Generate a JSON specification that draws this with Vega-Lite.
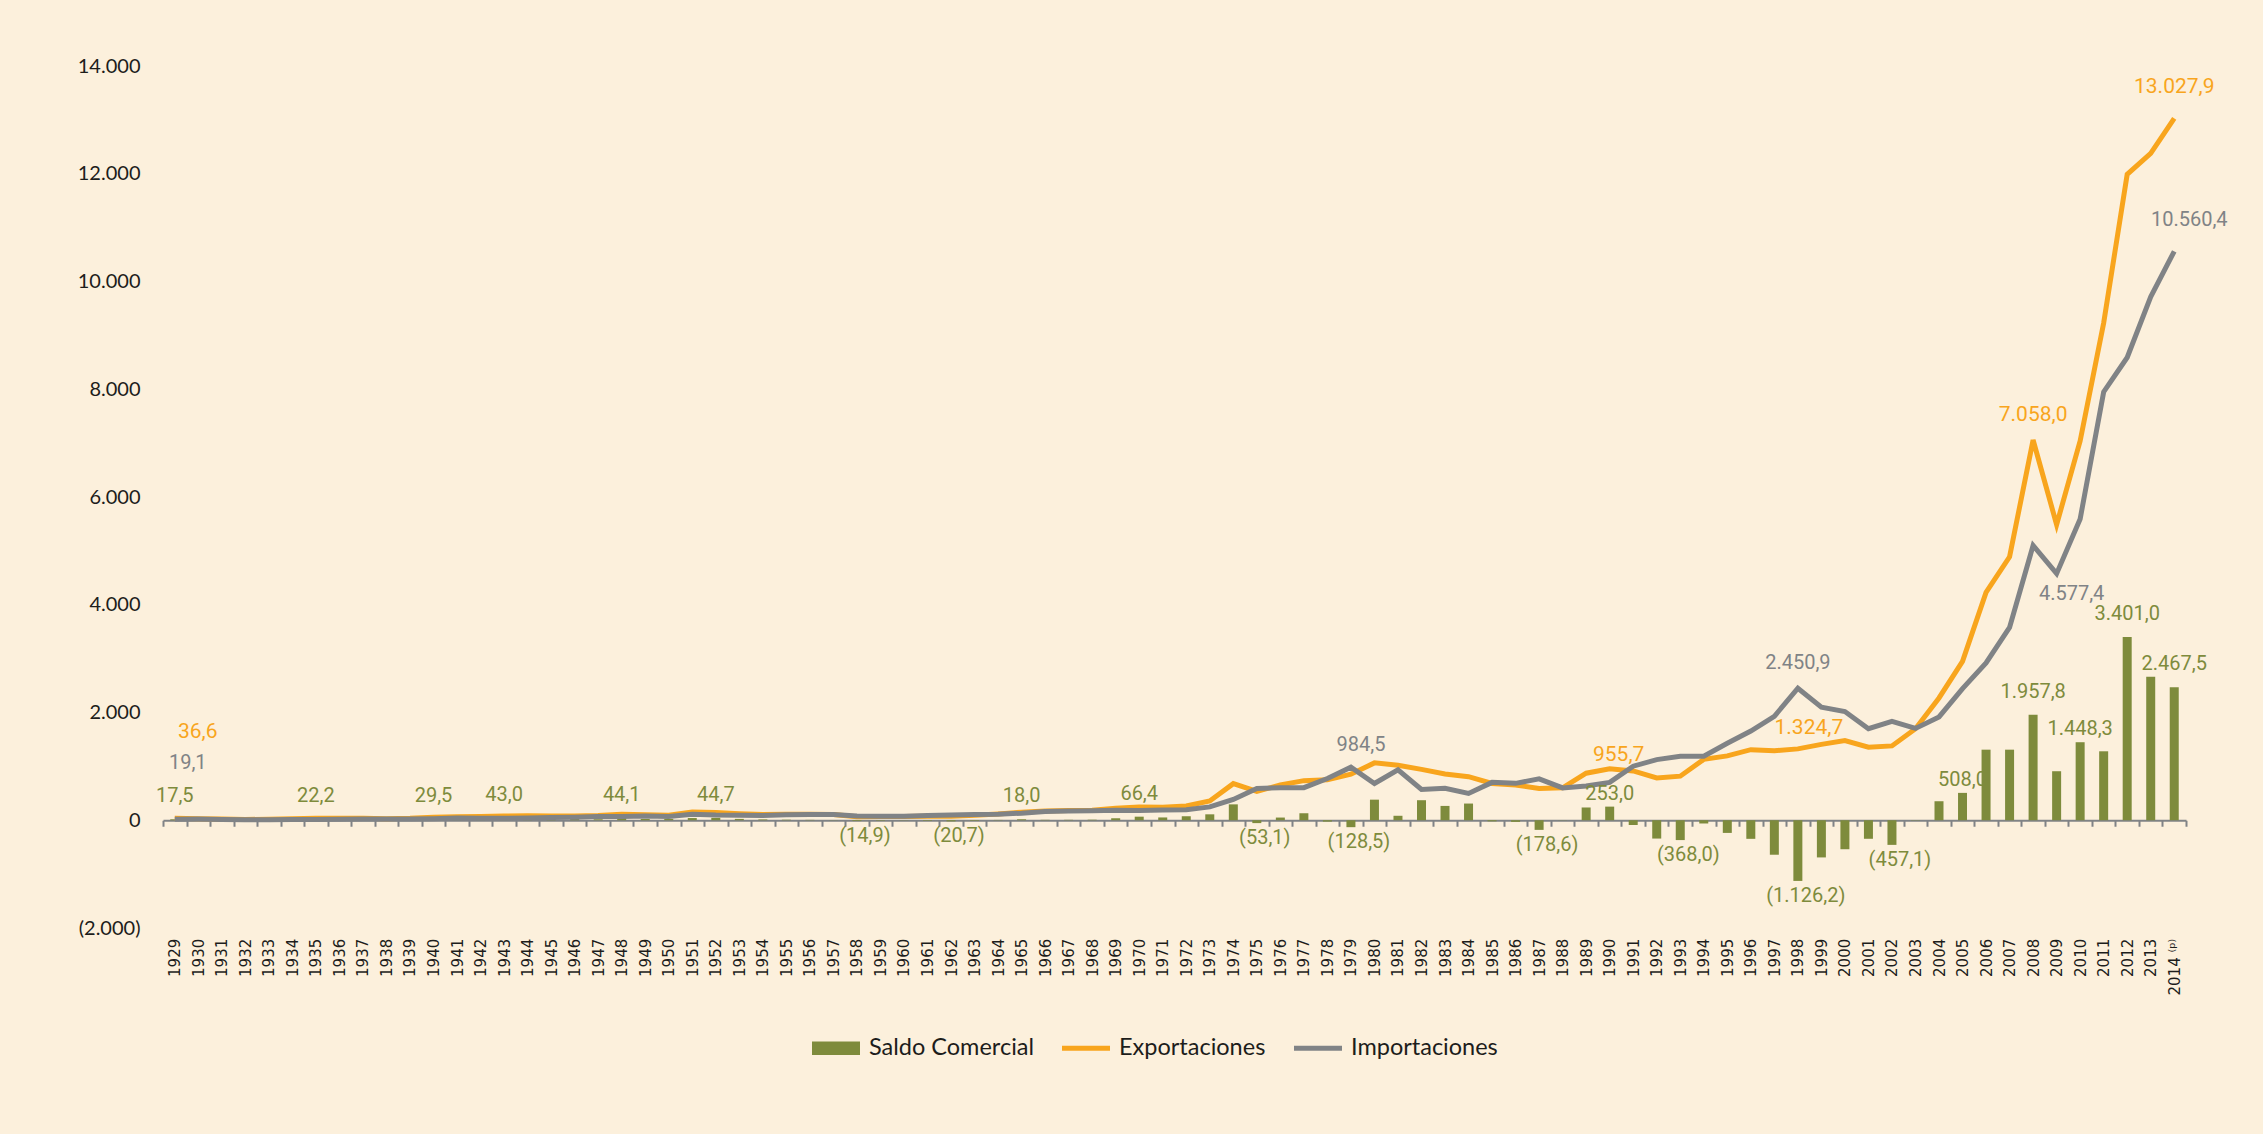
{
  "$schema": "https://vega.github.io/schema/vega-lite/v6.json",
  "width": 2023,
  "height": 862,
  "autosize": {"type": "none"},
  "padding": {"left": 163, "top": 66, "right": 77, "bottom": 206},
  "background": "#fcf0dc",
  "config": {
    "locale": {"number": {"decimal": ",", "thousands": ".", "grouping": [3], "currency": ["", ""]}},
    "view": {"stroke": null},
    "text": {"font": "Liberation Sans Narrow, Roboto, sans-serif", "fontSize": 20, "baseline": "middle", "align": "center"},
    "axisY": {"grid": false, "domain": false, "ticks": false, "labelFont": "Lato", "labelFontSize": 20, "labelColor": "#1d1d1b", "labelPadding": 23}
  },
  "data": {"values": [
    {"year": 1929, "exp": 36.6, "imp": 19.1, "saldo": 17.5},
    {"year": 1930, "exp": 30.0, "imp": 21.0, "saldo": 9.0},
    {"year": 1931, "exp": 22.0, "imp": 14.0, "saldo": 8.0},
    {"year": 1932, "exp": 15.0, "imp": 9.0, "saldo": 6.0},
    {"year": 1933, "exp": 18.0, "imp": 11.0, "saldo": 7.0},
    {"year": 1934, "exp": 26.0, "imp": 14.0, "saldo": 12.0},
    {"year": 1935, "exp": 38.0, "imp": 15.8, "saldo": 22.2},
    {"year": 1936, "exp": 35.0, "imp": 19.0, "saldo": 16.0},
    {"year": 1937, "exp": 38.0, "imp": 23.0, "saldo": 15.0},
    {"year": 1938, "exp": 30.0, "imp": 25.0, "saldo": 5.0},
    {"year": 1939, "exp": 36.0, "imp": 22.0, "saldo": 14.0},
    {"year": 1940, "exp": 57.0, "imp": 27.5, "saldo": 29.5},
    {"year": 1941, "exp": 65.0, "imp": 40.0, "saldo": 25.0},
    {"year": 1942, "exp": 68.0, "imp": 39.0, "saldo": 29.0},
    {"year": 1943, "exp": 80.0, "imp": 37.0, "saldo": 43.0},
    {"year": 1944, "exp": 82.0, "imp": 44.0, "saldo": 38.0},
    {"year": 1945, "exp": 80.0, "imp": 52.0, "saldo": 28.0},
    {"year": 1946, "exp": 79.0, "imp": 56.0, "saldo": 23.0},
    {"year": 1947, "exp": 87.0, "imp": 69.0, "saldo": 18.0},
    {"year": 1948, "exp": 113.0, "imp": 68.9, "saldo": 44.1},
    {"year": 1949, "exp": 101.0, "imp": 78.0, "saldo": 23.0},
    {"year": 1950, "exp": 94.0, "imp": 70.0, "saldo": 24.0},
    {"year": 1951, "exp": 151.0, "imp": 110.0, "saldo": 41.0},
    {"year": 1952, "exp": 142.0, "imp": 97.3, "saldo": 44.7},
    {"year": 1953, "exp": 120.0, "imp": 95.0, "saldo": 25.0},
    {"year": 1954, "exp": 105.0, "imp": 90.0, "saldo": 15.0},
    {"year": 1955, "exp": 110.0, "imp": 100.0, "saldo": 10.0},
    {"year": 1956, "exp": 112.0, "imp": 105.0, "saldo": 7.0},
    {"year": 1957, "exp": 105.0, "imp": 108.0, "saldo": -3.0},
    {"year": 1958, "exp": 64.0, "imp": 78.9, "saldo": -14.9},
    {"year": 1959, "exp": 68.0, "imp": 76.0, "saldo": -8.0},
    {"year": 1960, "exp": 68.0, "imp": 72.0, "saldo": -4.0},
    {"year": 1961, "exp": 76.0, "imp": 86.0, "saldo": -10.0},
    {"year": 1962, "exp": 76.0, "imp": 96.7, "saldo": -20.7},
    {"year": 1963, "exp": 95.0, "imp": 105.0, "saldo": -10.0},
    {"year": 1964, "exp": 118.0, "imp": 112.0, "saldo": 6.0},
    {"year": 1965, "exp": 150.0, "imp": 132.0, "saldo": 18.0},
    {"year": 1966, "exp": 172.0, "imp": 164.0, "saldo": 8.0},
    {"year": 1967, "exp": 180.0, "imp": 172.0, "saldo": 8.0},
    {"year": 1968, "exp": 186.0, "imp": 176.0, "saldo": 10.0},
    {"year": 1969, "exp": 222.0, "imp": 185.0, "saldo": 37.0},
    {"year": 1970, "exp": 246.4, "imp": 180.0, "saldo": 66.4},
    {"year": 1971, "exp": 240.0, "imp": 188.0, "saldo": 52.0},
    {"year": 1972, "exp": 266.0, "imp": 194.0, "saldo": 72.0},
    {"year": 1973, "exp": 358.0, "imp": 248.0, "saldo": 110.0},
    {"year": 1974, "exp": 680.0, "imp": 385.0, "saldo": 295.0},
    {"year": 1975, "exp": 535.0, "imp": 588.1, "saldo": -53.1},
    {"year": 1976, "exp": 655.0, "imp": 605.0, "saldo": 50.0},
    {"year": 1977, "exp": 735.0, "imp": 605.0, "saldo": 130.0},
    {"year": 1978, "exp": 750.0, "imp": 775.0, "saldo": -25.0},
    {"year": 1979, "exp": 856.0, "imp": 984.5, "saldo": -128.5},
    {"year": 1980, "exp": 1065.0, "imp": 683.0, "saldo": 382.0},
    {"year": 1981, "exp": 1020.0, "imp": 937.0, "saldo": 83.0},
    {"year": 1982, "exp": 945.0, "imp": 573.0, "saldo": 372.0},
    {"year": 1983, "exp": 858.0, "imp": 592.0, "saldo": 266.0},
    {"year": 1984, "exp": 808.0, "imp": 498.0, "saldo": 310.0},
    {"year": 1985, "exp": 683.0, "imp": 703.0, "saldo": -20.0},
    {"year": 1986, "exp": 655.0, "imp": 685.0, "saldo": -30.0},
    {"year": 1987, "exp": 590.0, "imp": 768.6, "saldo": -178.6},
    {"year": 1988, "exp": 603.0, "imp": 600.0, "saldo": 3.0},
    {"year": 1989, "exp": 873.0, "imp": 636.0, "saldo": 237.0},
    {"year": 1990, "exp": 955.7, "imp": 702.7, "saldo": 253.0},
    {"year": 1991, "exp": 915.0, "imp": 1003.0, "saldo": -88.0},
    {"year": 1992, "exp": 786.0, "imp": 1126.0, "saldo": -340.0},
    {"year": 1993, "exp": 818.0, "imp": 1186.0, "saldo": -368.0},
    {"year": 1994, "exp": 1130.0, "imp": 1190.0, "saldo": -60.0},
    {"year": 1995, "exp": 1195.0, "imp": 1430.0, "saldo": -235.0},
    {"year": 1996, "exp": 1310.0, "imp": 1655.0, "saldo": -345.0},
    {"year": 1997, "exp": 1290.0, "imp": 1930.0, "saldo": -640.0},
    {"year": 1998, "exp": 1324.7, "imp": 2450.9, "saldo": -1126.2},
    {"year": 1999, "exp": 1408.0, "imp": 2098.0, "saldo": -690.0},
    {"year": 2000, "exp": 1480.0, "imp": 2018.0, "saldo": -538.0},
    {"year": 2001, "exp": 1356.0, "imp": 1700.0, "saldo": -344.0},
    {"year": 2002, "exp": 1380.0, "imp": 1837.1, "saldo": -457.1},
    {"year": 2003, "exp": 1700.0, "imp": 1705.0, "saldo": -5.0},
    {"year": 2004, "exp": 2270.0, "imp": 1917.0, "saldo": 353.0},
    {"year": 2005, "exp": 2950.0, "imp": 2442.0, "saldo": 508.0},
    {"year": 2006, "exp": 4230.0, "imp": 2920.0, "saldo": 1310.0},
    {"year": 2007, "exp": 4890.0, "imp": 3580.0, "saldo": 1310.0},
    {"year": 2008, "exp": 7058.0, "imp": 5100.2, "saldo": 1957.8},
    {"year": 2009, "exp": 5487.4, "imp": 4577.4, "saldo": 910.0},
    {"year": 2010, "exp": 7040.0, "imp": 5591.7, "saldo": 1448.3},
    {"year": 2011, "exp": 9230.0, "imp": 7950.0, "saldo": 1280.0},
    {"year": 2012, "exp": 11990.0, "imp": 8589.0, "saldo": 3401.0},
    {"year": 2013, "exp": 12380.0, "imp": 9715.0, "saldo": 2665.0},
    {"year": 2014, "exp": 13027.9, "imp": 10560.4, "saldo": 2467.5}
  ]},
  "encoding": {
    "x": {
      "field": "year", "type": "ordinal", "title": null,
      "scale": {"paddingInner": 0, "paddingOuter": 0},
      "axis": {
        "title": null, "labelAngle": 270, "labelAlign": "right", "labelBaseline": "middle",
        "labelFont": "DejaVu Sans", "labelFontSize": 15, "labelColor": "#1d1d1b",
        "labelPadding": 112, "labelOverlap": false, "offset": -107.75,
        "domainColor": "#808386", "domainWidth": 2, "tickColor": "#808386", "tickWidth": 2,
        "tickSize": 6, "tickBand": "extent", "grid": false,
        "labelExpr": "datum.value == 2014 ? '2014 ⁽ᵖ⁾' : datum.label"
      }
    }
  },
  "layer": [
    {
      "mark": {"type": "bar", "size": 9},
      "encoding": {
        "y": {
          "field": "saldo", "type": "quantitative", "title": null,
          "scale": {"domain": [-2000, 14000], "nice": false, "zero": false},
          "axis": {"title": null, "values": [-2000, 0, 2000, 4000, 6000, 8000, 10000, 12000, 14000], "format": "(,.0f"}
        },
        "color": {
          "datum": "Saldo Comercial",
          "scale": {"domain": ["Saldo Comercial", "Exportaciones", "Importaciones"], "range": ["#7e8b3c", "#f8a51d", "#808386"]},
          "legend": {
            "title": null, "orient": "none", "direction": "horizontal",
            "legendX": 649, "legendY": 958,
            "labelFont": "Lato", "labelFontSize": 23.5, "labelColor": "#1d1d1b", "labelLimit": 400,
            "symbolSize": 2304, "labelOffset": 9, "columnPadding": 28,
            "encode": {
              "symbols": {
                "update": {
                  "shape": {"signal": "datum.value === 'Saldo Comercial' ? 'M-1,-0.28H1V0.28H-1Z' : 'M-1,-0.1H1V0.1H-1Z'"},
                  "fill": {"scale": "color", "field": "value"},
                  "stroke": {"value": "transparent"},
                  "strokeWidth": {"value": 0},
                  "opacity": {"value": 1}
                }
              }
            }
          }
        }
      }
    },
    {
      "mark": {"type": "line", "strokeWidth": 5},
      "encoding": {
        "y": {"field": "exp", "type": "quantitative", "title": null, "axis": {"title": null, "values": [-2000, 0, 2000, 4000, 6000, 8000, 10000, 12000, 14000], "format": "(,.0f"}},
        "color": {"datum": "Exportaciones"}
      }
    },
    {
      "mark": {"type": "line", "strokeWidth": 5},
      "encoding": {
        "y": {"field": "imp", "type": "quantitative", "title": null, "axis": {"title": null, "values": [-2000, 0, 2000, 4000, 6000, 8000, 10000, 12000, 14000], "format": "(,.0f"}},
        "color": {"datum": "Importaciones"}
      }
    },
    {
      "transform": [{"filter": {"field": "year", "oneOf": [1929, 1935, 1940, 1943, 1948, 1952, 1965, 1970, 2008, 2012, 2014]}}],
      "mark": {"type": "text", "dy": -23, "color": "#7e8b3c"},
      "encoding": {
        "y": {"field": "saldo", "type": "quantitative", "title": null, "axis": {"title": null, "values": [-2000, 0, 2000, 4000, 6000, 8000, 10000, 12000, 14000], "format": "(,.0f"}},
        "text": {"field": "saldo", "type": "quantitative", "format": ",.1f"}
      }
    },
    {
      "transform": [{"filter": {"field": "year", "oneOf": [1990, 2005, 2010]}}],
      "mark": {"type": "text", "dy": -13, "color": "#7e8b3c"},
      "encoding": {
        "y": {"field": "saldo", "type": "quantitative", "title": null, "axis": {"title": null, "values": [-2000, 0, 2000, 4000, 6000, 8000, 10000, 12000, 14000], "format": "(,.0f"}},
        "text": {"field": "saldo", "type": "quantitative", "format": ",.1f"}
      }
    },
    {
      "transform": [{"filter": {"field": "year", "oneOf": [1958, 1962, 1975, 1979, 1987, 1993, 1998, 2002]}}],
      "mark": {"type": "text", "dy": 15, "dx": 8, "color": "#7e8b3c"},
      "encoding": {
        "y": {"field": "saldo", "type": "quantitative", "title": null, "axis": {"title": null, "values": [-2000, 0, 2000, 4000, 6000, 8000, 10000, 12000, 14000], "format": "(,.0f"}},
        "text": {"field": "saldo", "type": "quantitative", "format": "(,.1f"}
      }
    },
    {
      "transform": [{"filter": {"field": "year", "oneOf": [1929]}}],
      "mark": {"type": "text", "dy": -86, "dx": 23, "color": "#f8a51d", "fontSize": 21},
      "encoding": {
        "y": {"field": "exp", "type": "quantitative", "title": null, "axis": {"title": null, "values": [-2000, 0, 2000, 4000, 6000, 8000, 10000, 12000, 14000], "format": "(,.0f"}},
        "text": {"field": "exp", "type": "quantitative", "format": ",.1f"}
      }
    },
    {
      "transform": [{"filter": {"field": "year", "oneOf": [1990]}}],
      "mark": {"type": "text", "dy": -14, "dx": 9, "color": "#f8a51d", "fontSize": 21},
      "encoding": {
        "y": {"field": "exp", "type": "quantitative", "title": null, "axis": {"title": null, "values": [-2000, 0, 2000, 4000, 6000, 8000, 10000, 12000, 14000], "format": "(,.0f"}},
        "text": {"field": "exp", "type": "quantitative", "format": ",.1f"}
      }
    },
    {
      "transform": [{"filter": {"field": "year", "oneOf": [1998]}}],
      "mark": {"type": "text", "dy": -21, "dx": 11, "color": "#f8a51d", "fontSize": 21},
      "encoding": {
        "y": {"field": "exp", "type": "quantitative", "title": null, "axis": {"title": null, "values": [-2000, 0, 2000, 4000, 6000, 8000, 10000, 12000, 14000], "format": "(,.0f"}},
        "text": {"field": "exp", "type": "quantitative", "format": ",.1f"}
      }
    },
    {
      "transform": [{"filter": {"field": "year", "oneOf": [2008]}}],
      "mark": {"type": "text", "dy": -25, "color": "#f8a51d", "fontSize": 21},
      "encoding": {
        "y": {"field": "exp", "type": "quantitative", "title": null, "axis": {"title": null, "values": [-2000, 0, 2000, 4000, 6000, 8000, 10000, 12000, 14000], "format": "(,.0f"}},
        "text": {"field": "exp", "type": "quantitative", "format": ",.1f"}
      }
    },
    {
      "transform": [{"filter": {"field": "year", "oneOf": [2014]}}],
      "mark": {"type": "text", "dy": -31, "color": "#f8a51d", "fontSize": 21},
      "encoding": {
        "y": {"field": "exp", "type": "quantitative", "title": null, "axis": {"title": null, "values": [-2000, 0, 2000, 4000, 6000, 8000, 10000, 12000, 14000], "format": "(,.0f"}},
        "text": {"field": "exp", "type": "quantitative", "format": ",.1f"}
      }
    },
    {
      "transform": [{"filter": {"field": "year", "oneOf": [1929]}}],
      "mark": {"type": "text", "dy": -56, "dx": 13, "color": "#808386"},
      "encoding": {
        "y": {"field": "imp", "type": "quantitative", "title": null, "axis": {"title": null, "values": [-2000, 0, 2000, 4000, 6000, 8000, 10000, 12000, 14000], "format": "(,.0f"}},
        "text": {"field": "imp", "type": "quantitative", "format": ",.1f"}
      }
    },
    {
      "transform": [{"filter": {"field": "year", "oneOf": [1979]}}],
      "mark": {"type": "text", "dy": -22, "dx": 10, "color": "#808386"},
      "encoding": {
        "y": {"field": "imp", "type": "quantitative", "title": null, "axis": {"title": null, "values": [-2000, 0, 2000, 4000, 6000, 8000, 10000, 12000, 14000], "format": "(,.0f"}},
        "text": {"field": "imp", "type": "quantitative", "format": ",.1f"}
      }
    },
    {
      "transform": [{"filter": {"field": "year", "oneOf": [1998]}}],
      "mark": {"type": "text", "dy": -25, "color": "#808386"},
      "encoding": {
        "y": {"field": "imp", "type": "quantitative", "title": null, "axis": {"title": null, "values": [-2000, 0, 2000, 4000, 6000, 8000, 10000, 12000, 14000], "format": "(,.0f"}},
        "text": {"field": "imp", "type": "quantitative", "format": ",.1f"}
      }
    },
    {
      "transform": [{"filter": {"field": "year", "oneOf": [2009]}}],
      "mark": {"type": "text", "dy": 20, "dx": 15, "color": "#808386"},
      "encoding": {
        "y": {"field": "imp", "type": "quantitative", "title": null, "axis": {"title": null, "values": [-2000, 0, 2000, 4000, 6000, 8000, 10000, 12000, 14000], "format": "(,.0f"}},
        "text": {"field": "imp", "type": "quantitative", "format": ",.1f"}
      }
    },
    {
      "transform": [{"filter": {"field": "year", "oneOf": [2014]}}],
      "mark": {"type": "text", "dy": -31, "dx": 15, "color": "#808386"},
      "encoding": {
        "y": {"field": "imp", "type": "quantitative", "title": null, "axis": {"title": null, "values": [-2000, 0, 2000, 4000, 6000, 8000, 10000, 12000, 14000], "format": "(,.0f"}},
        "text": {"field": "imp", "type": "quantitative", "format": ",.1f"}
      }
    }
  ]
}
